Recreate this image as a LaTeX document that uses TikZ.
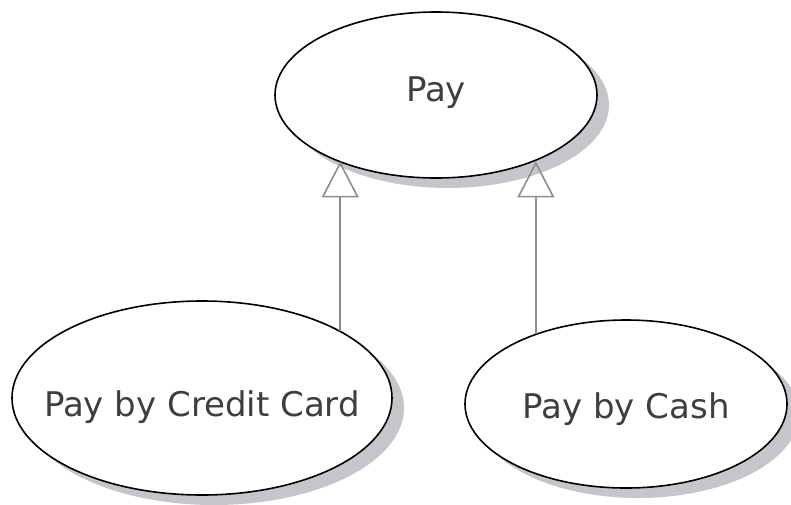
\documentclass[tikz,border=0pt]{standalone}
\usepackage{fontspec}
\setmainfont{DejaVu Sans}
\usetikzlibrary{shapes.geometric,shadows,arrows.meta}
\definecolor{shadowgray}{RGB}{198,198,202}
\definecolor{linegray}{RGB}{140,140,140}
\definecolor{textgray}{RGB}{62,62,62}
\tikzset{
  usecase/.style={ellipse, draw=black, line width=1.6pt, fill=white, inner sep=0pt,
    drop shadow={shadow xshift=12pt, shadow yshift=-10pt, fill=shadowgray, opacity=1}},
  uctext/.style={inner sep=0pt, text=textgray, font=\fontsize{34}{37}\selectfont},
  gen/.style={draw=linegray, line width=1.8pt,
    -{Triangle[open, length=36pt, width=37pt, line width=1.6pt]}}
}
\begin{document}
\begin{tikzpicture}[x=1pt,y=-1pt]
\useasboundingbox (0,0) rectangle (791,504);
\node[usecase, minimum width=322pt, minimum height=166pt] (pay) at (436,95) {};
\node[usecase, minimum width=380pt, minimum height=194pt] (credit) at (202,398) {};
\node[usecase, minimum width=322pt, minimum height=168pt] (cash) at (626,404) {};
\node[uctext] (paytext) at ([yshift=2pt]pay.center) {Pay};
\node[uctext] (credittext) at ([yshift=-9pt]credit.center) {Pay by Credit Card};
\node[uctext] (cashtext) at ([yshift=-5pt]cash.center) {Pay by Cash};
\draw[gen] (credit.26.6) -- (credit.26.6 |- pay.214);
\draw[gen] (cash.142.8) -- (cash.142.8 |- pay.326.5);
\end{tikzpicture}
\end{document}
